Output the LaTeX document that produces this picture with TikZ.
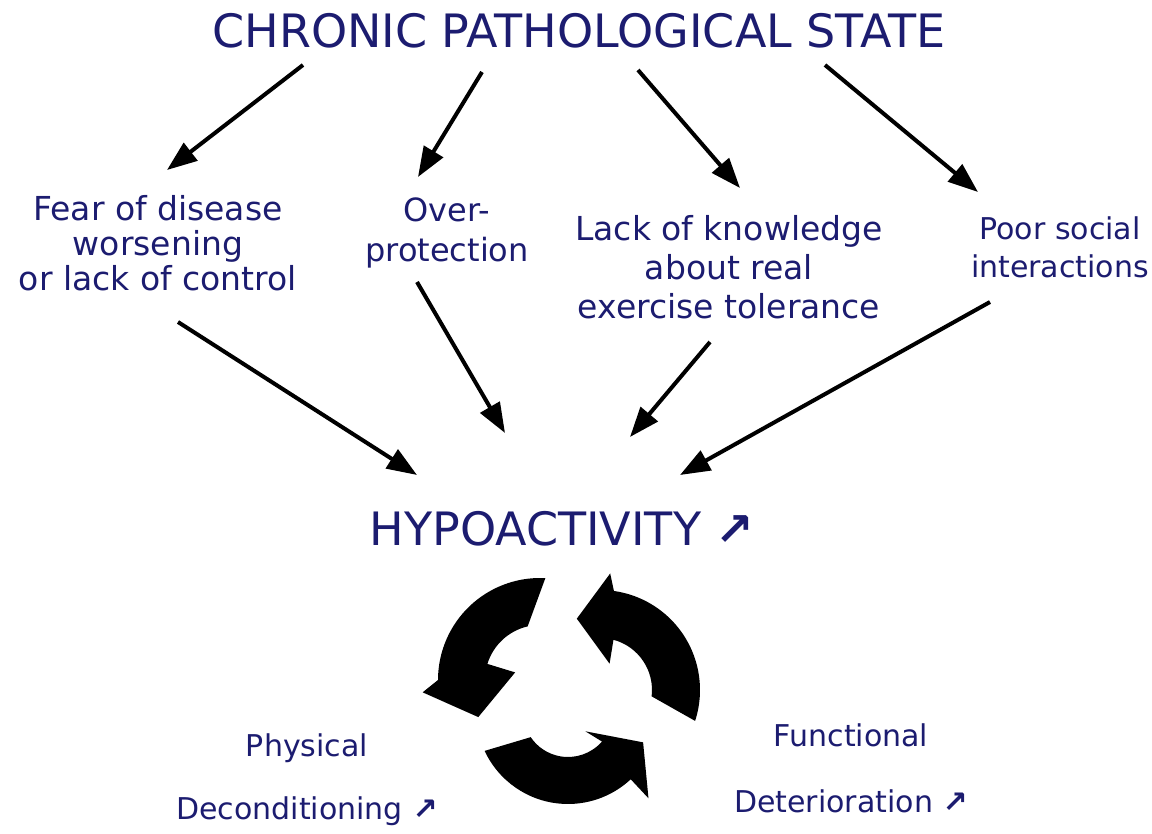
\documentclass[tikz,border=0pt]{standalone}
\usepackage{fontspec}
\setmainfont{DejaVu Sans}
\usetikzlibrary{arrows.meta}
\definecolor{navy}{RGB}{28,28,112}
\newcommand{\upar}{{\bfseries ↗}}
\begin{document}
\begin{tikzpicture}[x=1pt,y=-1pt,
  lbl/.style={text=navy,align=center,inner sep=0pt},
  conn/.style={line width=4pt,-{Triangle[length=30pt,width=22pt]}},
  ring/.style={fill=black}]
\useasboundingbox (0,0) rectangle (1152,834);
\fill[white] (0,0) rectangle (1152,834);
% texts
\node[lbl,anchor=base,font=\fontsize{46}{50}\selectfont] (chronic) at (579,48) {CHRONIC PATHOLOGICAL STATE};
\node[lbl,anchor=north,font=\fontsize{33}{35}\selectfont] (fear) at (158,195) {Fear of disease\\worsening\\or lack of control};
\node[lbl,anchor=north,font=\fontsize{32}{40}\selectfont] (over) at (447,198) {Over-\\protection};
\node[lbl,anchor=north,font=\fontsize{33}{39}\selectfont] (lack) at (729,215) {Lack of knowledge\\about real\\exercise tolerance};
\node[lbl,anchor=north,font=\fontsize{30}{38}\selectfont] (poor) at (1060,217) {Poor social\\interactions};
\node[lbl,anchor=base,font=\fontsize{46}{50}\selectfont] (hypo) at (562,545) {HYPOACTIVITY \upar};
\node[lbl,anchor=north,font=\fontsize{30}{63}\selectfont] (phys) at (307,734) {Physical\\Deconditioning \upar};
\node[lbl,anchor=north,font=\fontsize{30}{66}\selectfont] (func) at (851,724) {Functional\\Deterioration \upar};
% connector anchors
\coordinate (c1) at (303,65);  \coordinate (f1) at (167,170);
\coordinate (c2) at (482,72);  \coordinate (o1) at (418,177);
\coordinate (c3) at (638,70);  \coordinate (l1) at (740,188);
\coordinate (c4) at (825,65);  \coordinate (p1) at (978,192);
\coordinate (f2) at (178,322); \coordinate (h1) at (417,475);
\coordinate (o2) at (417,282); \coordinate (h2) at (505,433);
\coordinate (l2) at (710,342); \coordinate (h3) at (630,437);
\coordinate (p2) at (990,302); \coordinate (h4) at (680,475);
\draw[conn] (c1) -- (f1);
\draw[conn] (c2) -- (o1);
\draw[conn] (c3) -- (l1);
\draw[conn] (c4) -- (p1);
\draw[conn] (f2) -- (h1);
\draw[conn] (o2) -- (h2);
\draw[conn] (l2) -- (h3);
\draw[conn] (p2) -- (h4);
% cycle arrows
\begin{scope}[shift={(540,680)},yscale=-1]
  \fill[ring] (87:102) arc[start angle=87,end angle=180,radius=102] -- (186:118) -- (211:72) -- (163:26) -- (163:55) arc[start angle=163,end angle=103,radius=55] -- cycle;
\end{scope}
\begin{scope}[shift={(600,690)},yscale=-1]
  \fill[ring] (-18:100) arc[start angle=-18,end angle=82,radius=100] -- (85:117) -- (108:75) -- (70:28) -- (75:52) arc[start angle=75,end angle=-7,radius=52] -- cycle;
\end{scope}
\begin{scope}[shift={(568,712)},yscale=-1]
  \fill[ring] (205:92) arc[start angle=205,end angle=313,radius=92] -- (313:118) -- (338:81) -- (312:26) -- (319:45) arc[start angle=319,end angle=214,radius=45] -- cycle;
\end{scope}
\end{tikzpicture}
\end{document}
